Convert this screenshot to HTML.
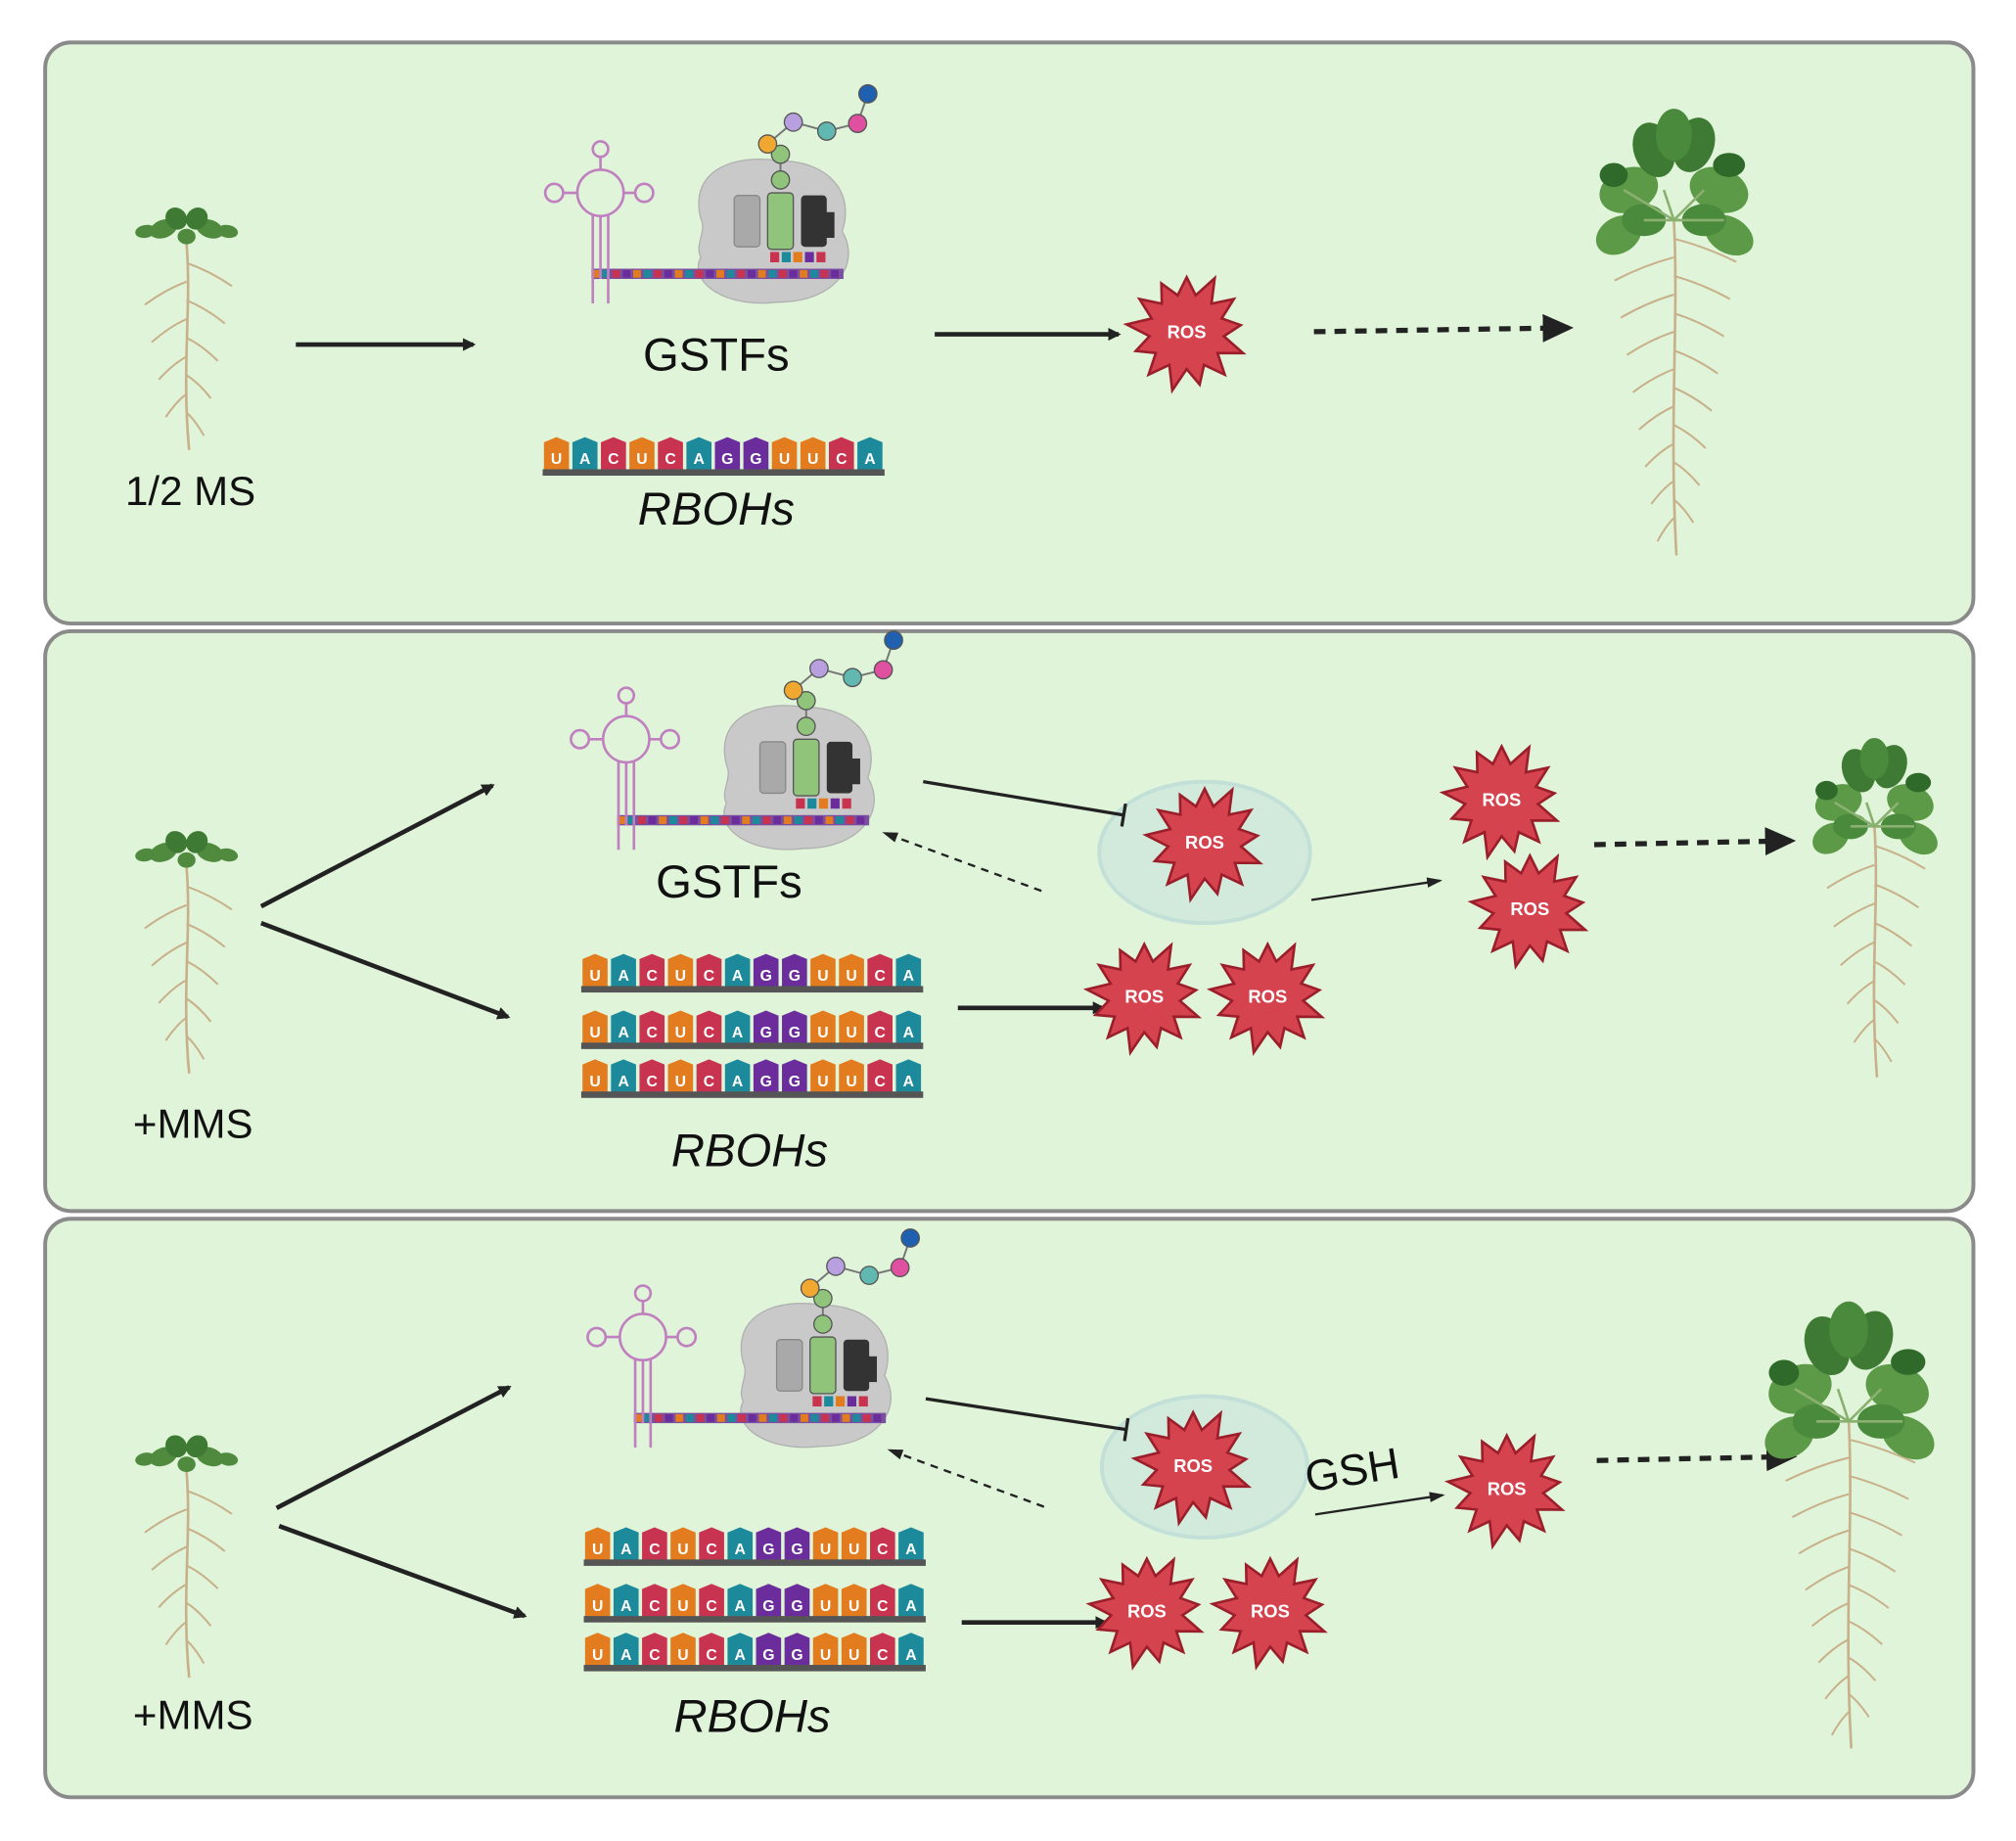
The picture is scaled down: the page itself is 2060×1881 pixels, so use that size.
<!DOCTYPE html>
<html><head><meta charset="utf-8"><style>
html,body{margin:0;padding:0;background:#fff;}
svg{display:block;}
</style></head><body>
<svg id="s" width="2060" height="1881" viewBox="0 0 1568 1432" xmlns="http://www.w3.org/2000/svg" font-family="Liberation Sans, sans-serif">
<defs>
<marker id="ah" markerWidth="10" markerHeight="10" refX="8" refY="5" orient="auto" markerUnits="userSpaceOnUse"><path d="M0,0 L10,5 L0,10 z" fill="#222"/></marker>
<marker id="ahb" markerWidth="26" markerHeight="22" refX="20" refY="11" orient="auto" markerUnits="userSpaceOnUse"><path d="M0,0 L24,11 L0,22 z" fill="#222"/></marker>
<marker id="ahs" markerWidth="12" markerHeight="10" refX="10" refY="5" orient="auto" markerUnits="userSpaceOnUse"><path d="M0,1 L12,5 L0,9 z" fill="#222"/></marker>
</defs>
<rect x="35" y="33" width="1500" height="452" rx="20" fill="#dff4d8" stroke="#8a8a8a" stroke-width="3"/>
<rect x="35" y="491" width="1500" height="451" rx="20" fill="#dff4d8" stroke="#8a8a8a" stroke-width="3"/>
<rect x="35" y="948" width="1500" height="450" rx="20" fill="#dff4d8" stroke="#8a8a8a" stroke-width="3"/>
<g id="g"></g>
<g font-size="32" fill="#111">
<text x="148" y="393" text-anchor="middle">1/2 MS</text>
<text x="557" y="288" text-anchor="middle" font-size="36">GSTFs</text>
<text x="557" y="408" text-anchor="middle" font-size="36" font-style="italic">RBOHs</text>
<text x="150" y="885" text-anchor="middle">+MMS</text>
<text x="567" y="698" text-anchor="middle" font-size="36">GSTFs</text>
<text x="583" y="907" text-anchor="middle" font-size="36" font-style="italic">RBOHs</text>
<text x="150" y="1345" text-anchor="middle">+MMS</text>
<text x="585" y="1347" text-anchor="middle" font-size="36" font-style="italic">RBOHs</text>
<text x="1052" y="1155" text-anchor="middle" font-size="34" transform="rotate(-9 1052 1145)">GSH</text>
</g>
</svg>
<script>
const NS="http://www.w3.org/2000/svg",G=document.getElementById('g');
function el(t,a,p){const e=document.createElementNS(NS,t);for(const k in a)e.setAttribute(k,a[k]);(p||G).appendChild(e);return e;}
function line(x1,y1,x2,y2,o){return el('line',Object.assign({x1,y1,x2,y2,stroke:'#222','stroke-width':3},o||{}));}
function arrow(x1,y1,x2,y2,big){line(x1,y1,x2,y2,{'marker-end':big?'url(#ahb)':'url(#ah)','stroke-width':3.5});}
function dash(x1,y1,x2,y2,big){line(x1,y1,x2,y2,{'stroke-dasharray':big?'9 7':'6 5','stroke-width':big?4:1.8,'marker-end':big?'url(#ahb)':'url(#ahs)'});}
function thin(x1,y1,x2,y2){line(x1,y1,x2,y2,{'stroke-width':1.8,'marker-end':'url(#ahs)'});}
function inhib(x1,y1,x2,y2){line(x1,y1,x2,y2,{'stroke-width':2.5});const dx=x2-x1,dy=y2-y1,l=Math.hypot(dx,dy),nx=-dy/l*9,ny=dx/l*9;line(x2+nx,y2+ny,x2-nx,y2-ny,{'stroke-width':2.5});}
const seq="UACUCAGGUUCA",col={U:'#e37b1f',A:'#1d8a9c',C:'#c8334f',G:'#6b2d9b'};
function rna(x,y){const w=266,tw=19.5,st=w/12;for(let i=0;i<12;i++){const c=seq[i],tx=x+i*st+1;el('path',{d:`M${tx},${y+4} L${tx+tw/2},${y} L${tx+tw},${y+4} L${tx+tw},${y+26} L${tx},${y+26}z`,fill:col[c]});const t=el('text',{x:tx+tw/2,y:y+21,'text-anchor':'middle','font-size':12,fill:'#fff','font-weight':'bold'});t.textContent=c;}el('rect',{x,y:y+25,width:w,height:5,fill:'#555'});}
function star(cx,cy,r,fs){let p=[];const n=13;for(let i=0;i<n*2;i++){const a=i*Math.PI/n-Math.PI/2,rr=i%2?r*0.62:r*(0.9+0.1*((i*7)%3)/2);p.push((cx+rr*Math.cos(a)).toFixed(1)+','+(cy+rr*Math.sin(a)).toFixed(1));}el('polygon',{points:p.join(' '),fill:'#d5434f',stroke:'#9a1f2b','stroke-width':2});const t=el('text',{x:cx,y:cy+5,'text-anchor':'middle','font-size':fs||14,'font-weight':'bold',fill:'#fff'});t.textContent='ROS';}
function roots(x,top,bot,spread){el('path',{d:`M${x},${top} C${x+4},${top+(bot-top)*0.3} ${x-4},${top+(bot-top)*0.6} ${x+2},${bot}`,stroke:'#c8b08a','stroke-width':2,fill:'none'});const n=Math.floor((bot-top)/14);for(let i=1;i<n-1;i++){const y=top+i*(bot-top)/n,s=i%2?1:-1,l=spread*(1-i/n)+8;el('path',{d:`M${x},${y} q${s*l*0.5},${6} ${s*l},${18}`,stroke:'#c8b08a','stroke-width':1.5,fill:'none'});}}
function seedling(x,y,bot){roots(x,y+10,bot,30);const lc='#4f8a3e';[[-18,-2,11,7,-20],[18,-2,11,7,20],[-8,-10,8,9,-40],[8,-10,8,9,40],[0,4,7,6,0],[-32,0,8,5,-10],[32,0,8,5,10]].forEach(a=>el('ellipse',{cx:x+a[0],cy:y+a[1],rx:a[2],ry:a[3],fill:a[1]<-5?'#3e7a33':lc,transform:`rotate(${a[4]} ${x+a[0]} ${y+a[1]})`}));}
function plant(x,y,bot,s){roots(x,y+40*s,bot,55*s);const L=[[-45,10,30,22,-20,'#5c9a48'],[45,10,30,22,20,'#5c9a48'],[-20,-30,20,28,-20,'#3e7a33'],[20,-35,20,28,20,'#3e7a33'],[0,-45,18,26,0,'#4a8a3c'],[-55,55,24,18,-30,'#5c9a48'],[55,55,26,18,30,'#5c9a48'],[-30,40,22,16,0,'#4a8a3c'],[30,40,22,16,0,'#4a8a3c'],[-60,-5,14,12,0,'#2f6a2a'],[55,-15,16,12,0,'#2f6a2a']];L.forEach(a=>el('ellipse',{cx:x+a[0]*s,cy:y+a[1]*s,rx:a[2]*s,ry:a[3]*s,fill:a[5],transform:`rotate(${a[4]} ${x+a[0]*s} ${y+a[1]*s})`}));for(let i=0;i<6;i++)el('line',{x1:x,y1:y+40*s,x2:x+(i-2.5)*20*s,y2:y+(10+(i%2)*30)*s,stroke:'#8ab070','stroke-width':2});}
function ribo(x,y){
 el('path',{d:`M${x-50},${y-10} C${x-60},${y-50} ${x-20},${y-60} ${x+10},${y-55} C${x+50},${y-55} ${x+70},${y-30} ${x+60},${y} C${x+75},${y+25} ${x+55},${y+55} ${x+10},${y+55} C${x-30},${y+60} ${x-60},${y+40} ${x-50},${y+20} C${x-55},${y+10} ${x-45},${y} ${x-50},${y-10}z`,fill:'#c9c9c9',stroke:'#b0b0b0'});
 el('rect',{x:x-24,y:y-28,width:20,height:40,rx:3,fill:'#a9a9a9',stroke:'#888'});
 el('rect',{x:x+2,y:y-30,width:20,height:44,rx:3,fill:'#8fc47a',stroke:'#555'});
 el('rect',{x:x+28,y:y-28,width:20,height:40,rx:3,fill:'#333'});
 el('rect',{x:x+46,y:y-15,width:8,height:20,fill:'#333'});
 const mx=x-135,my=y+29;el('rect',{x:mx,y:my,width:196,height:8,fill:'#7a4fa0'});
 for(let i=0;i<24;i++)el('rect',{x:mx+i*8.1,y:my+1,width:6,height:6,fill:['#e37b1f','#1d8a9c','#c8334f','#6b2d9b'][i%4]});
 for(let i=0;i<5;i++)el('rect',{x:x+4+i*9,y:y+16,width:7,height:8,fill:['#c8334f','#1d8a9c','#e37b1f','#6b2d9b','#c8334f'][i]});
 const tx=x-128,ty=y-30;el('circle',{cx:tx,cy:ty,r:18,fill:'none',stroke:'#c080c0','stroke-width':2});el('circle',{cx:tx-36,cy:ty,r:7,fill:'none',stroke:'#c080c0','stroke-width':2});el('circle',{cx:tx+34,cy:ty,r:7,fill:'none',stroke:'#c080c0','stroke-width':2});el('circle',{cx:tx,cy:ty-34,r:6,fill:'none',stroke:'#c080c0','stroke-width':2});el('path',{d:`M${tx-18},${ty} h-11 M${tx+18},${ty} h9 M${tx},${ty-18} v-10 M${tx},${ty+18} v${my-ty-10} M${tx+6},${ty+17} v${my-ty+10} M${tx-6},${ty+17} v${my-ty+10}`,stroke:'#c080c0','stroke-width':2,fill:'none'});
 const bx=[[x+12,y-40,'#8fc47a'],[x+12,y-60,'#8fc47a'],[x+2,y-68,'#f0a830'],[x+22,y-85,'#b8a0e0'],[x+48,y-78,'#60b8b0'],[x+72,y-84,'#e050a0'],[x+80,y-107,'#2060b0']];
 el('polyline',{points:bx.map(b=>b[0]+','+b[1]).join(' '),fill:'none',stroke:'#777','stroke-width':1.5});
 bx.forEach(b=>el('circle',{cx:b[0],cy:b[1],r:7,fill:b[2],stroke:'#555','stroke-width':1}));
}
// panel 1
seedling(145,180,350);arrow(230,268,368,268);ribo(595,180);rna(422,340);arrow(727,260,870,260);star(923,258,47,14);dash(1022,258,1220,255,true);plant(1302,140,432,0.78);
// panel 2
seedling(145,665,835);arrow(203,705,383,611);arrow(203,718,395,791);ribo(615,605);
rna(452,742);rna(452,786);rna(452,824);
el('ellipse',{cx:937,cy:663,rx:82,ry:55,fill:'#d2eadb',stroke:'#c2dfd8','stroke-width':3});star(937,655,46,14);
inhib(718,608,874,634);dash(810,693,688,648,false);thin(1020,700,1120,685);
arrow(745,784,858,784);star(890,775,45,14);star(986,775,45,14);star(1168,622,46,14);star(1190,707,46,14);
dash(1240,657,1393,654,true);plant(1458,618,838,0.62);
// panel 3
seedling(145,1135,1305);arrow(215,1173,396,1079);arrow(217,1187,408,1257);ribo(628,1070);
rna(454,1188);rna(454,1232);rna(454,1270);
el('ellipse',{cx:937,cy:1141,rx:80,ry:55,fill:'#d2eadb',stroke:'#c2dfd8','stroke-width':3});star(928,1140,46,14);
inhib(720,1088,876,1112);dash(812,1172,692,1128,false);thin(1023,1178,1122,1163);star(1172,1158,46,14);
arrow(748,1262,860,1262);star(892,1253,45,14);star(988,1253,45,14);
dash(1242,1136,1394,1133,true);plant(1438,1072,1360,0.84);
</script>
</body></html>
